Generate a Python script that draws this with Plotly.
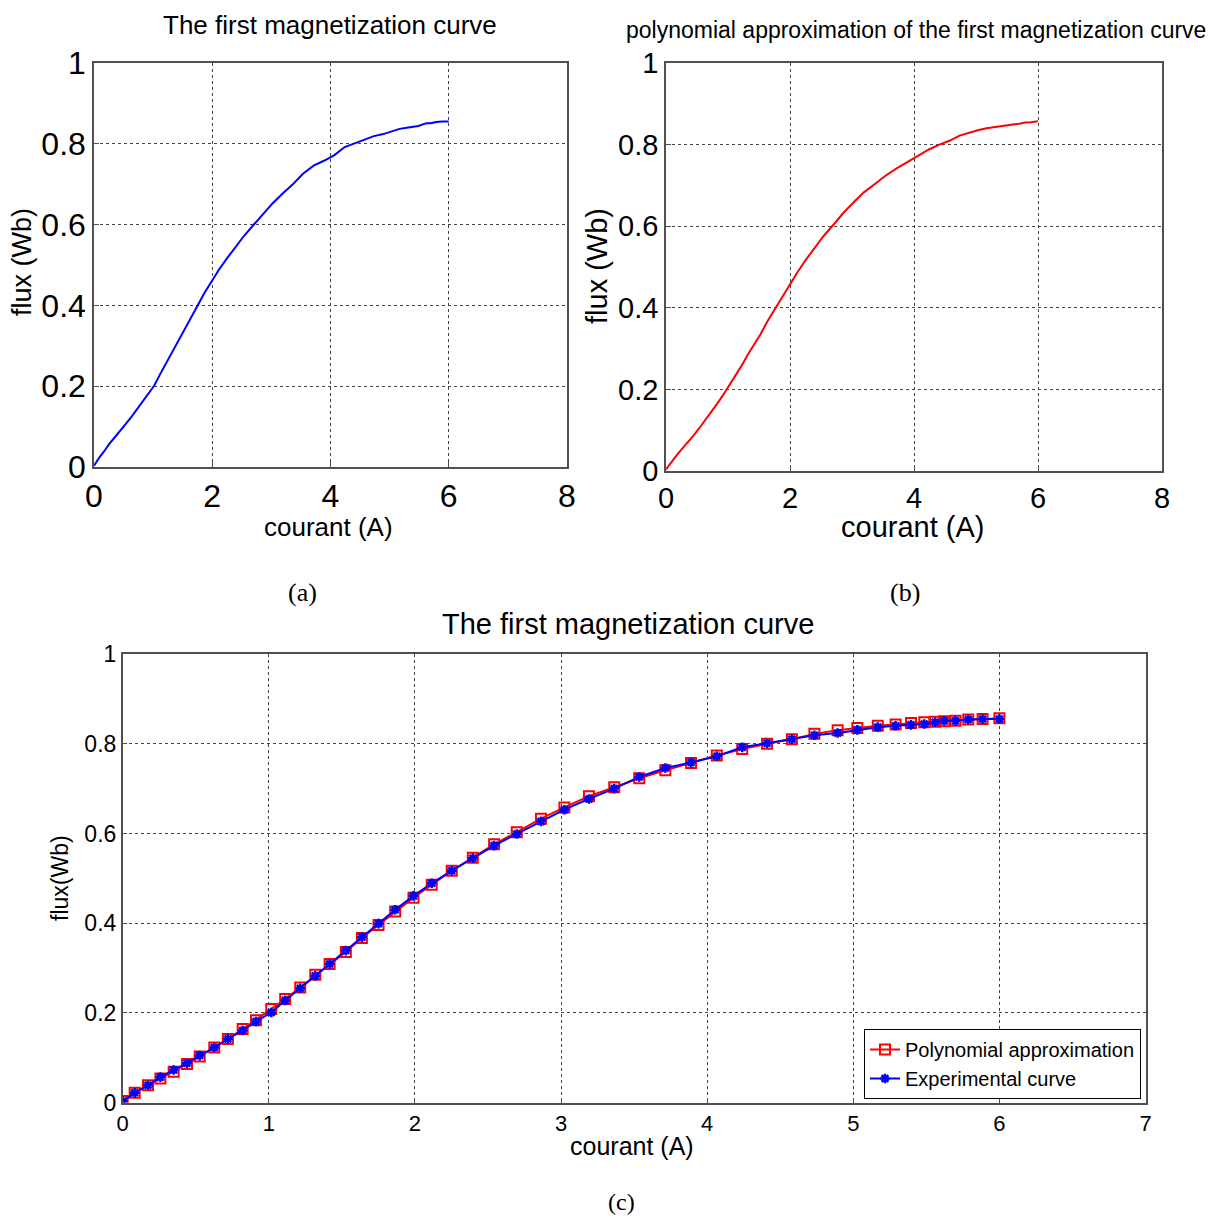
import plotly.graph_objects as go

# Measured flux vs. current (experimental magnetization curve)
courant_exp = [0.0, 0.082, 0.173, 0.258, 0.349, 0.44, 0.527, 0.627, 0.72, 0.821,
               0.912, 1.017, 1.112, 1.215, 1.318, 1.416, 1.527, 1.637, 1.751, 1.865,
               1.99, 2.115, 2.252, 2.396, 2.542, 2.697, 2.863, 3.023, 3.191, 3.364,
               3.535, 3.714, 3.89, 4.066, 4.24, 4.41, 4.58, 4.734, 4.893, 5.028,
               5.168, 5.29, 5.395, 5.486, 5.56, 5.623, 5.70, 5.787, 5.885, 6.0]
flux_exp = [0.003, 0.022, 0.039, 0.057, 0.073, 0.088, 0.105, 0.123, 0.142, 0.161,
            0.181, 0.201, 0.228, 0.255, 0.283, 0.309, 0.339, 0.369, 0.399, 0.430,
            0.461, 0.489, 0.517, 0.545, 0.573, 0.599, 0.627, 0.653, 0.677, 0.700,
            0.726, 0.746, 0.758, 0.772, 0.792, 0.801, 0.810, 0.819, 0.824, 0.831,
            0.837, 0.840, 0.842, 0.844, 0.848, 0.851, 0.851, 0.854, 0.855, 0.855]

# Polynomial fit evaluated at the same currents
flux_poly = [0.004, 0.022, 0.039, 0.054, 0.069, 0.086, 0.103, 0.123, 0.142, 0.164,
             0.184, 0.209, 0.231, 0.257, 0.285, 0.309, 0.336, 0.367, 0.396, 0.426,
             0.457, 0.486, 0.517, 0.546, 0.576, 0.603, 0.633, 0.658, 0.683, 0.703,
             0.723, 0.741, 0.757, 0.774, 0.788, 0.800, 0.810, 0.822, 0.830, 0.835,
             0.840, 0.843, 0.846, 0.848, 0.849, 0.850, 0.851, 0.854, 0.855, 0.857]

W = H = 1218
SANS = "Liberation Sans, Arial, sans-serif"
SERIF = "Liberation Serif, Times New Roman, serif"


def px_x(p):
    return p / W


def px_y(p):
    return 1 - p / H


fig = go.Figure()

fig.add_trace(go.Scatter(x=courant_exp, y=flux_exp, mode="lines",
                         line=dict(color="#0000ff", width=2),
                         xaxis="x", yaxis="y", showlegend=False))
fig.add_trace(go.Scatter(x=courant_exp, y=flux_poly, mode="lines",
                         line=dict(color="#ff0000", width=2),
                         xaxis="x2", yaxis="y2", showlegend=False))
fig.add_trace(go.Scatter(x=courant_exp, y=flux_poly, mode="lines+markers",
                         name="Polynomial approximation",
                         line=dict(color="#ff0000", width=2),
                         marker=dict(symbol="square-open", size=10,
                                     color="#ff0000", line=dict(width=2)),
                         xaxis="x3", yaxis="y3"))
fig.add_trace(go.Scatter(x=courant_exp, y=flux_exp, mode="lines+markers",
                         name="Experimental curve",
                         line=dict(color="#0000ff", width=2),
                         marker=dict(symbol="asterisk-open", size=8,
                                     color="#0000ff", line=dict(width=2.5,
                                                                color="#0000ff")),
                         xaxis="x3", yaxis="y3"))


def axis_style(rng, dtick, size, anchor, domain):
    return dict(range=rng, dtick=dtick, domain=domain, anchor=anchor,
                showline=True, mirror=True, linecolor="#505050", linewidth=1.5,
                showgrid=True, gridcolor="#444444", griddash="dot", gridwidth=1,
                zeroline=False, ticks="inside", ticklen=5, tickcolor="#505050",
                tickfont=dict(family=SANS, size=size, color="black"),
                automargin=False, fixedrange=True)


layout = dict(
    width=W, height=H,
    margin=dict(l=0, r=0, t=0, b=0),
    paper_bgcolor="white", plot_bgcolor="white",
    font=dict(family=SANS, color="black"),
    xaxis=axis_style([0, 8], 2, 32, "y", [px_x(94), px_x(567)]),
    yaxis=axis_style([0, 1], 0.2, 32, "x", [px_y(467), px_y(63)]),
    xaxis2=axis_style([0, 8], 2, 29, "y2", [px_x(666), px_x(1162)]),
    yaxis2=axis_style([0, 1], 0.2, 29, "x2", [px_y(471), px_y(63)]),
    xaxis3=axis_style([0, 7], 1, 22, "y3", [px_x(122.7), px_x(1145.5)]),
    yaxis3=axis_style([0, 1], 0.2, 23, "x3", [px_y(1102.7), px_y(654)]),
    legend=dict(x=px_x(1141), y=px_y(1099), xanchor="right", yanchor="bottom",
                bgcolor="white", bordercolor="black", borderwidth=1,
                font=dict(family=SANS, size=20, color="black"),
                tracegroupgap=0, itemwidth=30),
)
fig.update_layout(**layout)


def label(text, x, y, size, family=SANS, angle=0):
    fig.add_annotation(text=text, x=px_x(x), y=px_y(y), xref="paper", yref="paper",
                       xanchor="center", yanchor="middle", showarrow=False,
                       textangle=angle, font=dict(family=family, size=size, color="black"))


# Titles
label("The first magnetization curve", 330, 25, 26)
label("polynomial approximation of the first magnetization curve", 916, 30, 23)
label("The first magnetization curve", 628, 624, 29)
# Axis titles
label("courant (A)", 328, 527, 26)
label("flux (Wb)", 22, 262, 27, angle=-90)
label("courant (A)", 912, 527, 29)
label("flux (Wb)", 597, 266, 29, angle=-90)
label("courant (A)", 632, 1146, 25)
label("flux(Wb)", 60, 878, 23, angle=-90)
# Panel captions
label("(a)", 302, 592, 26, family=SERIF)
label("(b)", 905, 592, 26, family=SERIF)
label("(c)", 621, 1202, 24, family=SERIF)

fig.write_html("out.html")
